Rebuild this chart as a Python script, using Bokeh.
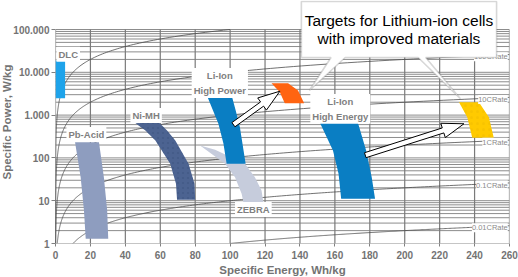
import numpy as np
from bokeh.plotting import figure
from bokeh.models import (Range1d, FixedTicker, CustomJSTickFormatter, Label,
                          PolyAnnotation, Title)
from bokeh.embed import file_html
from bokeh.resources import INLINE

# ---------------- data ----------------
x_ticks = list(range(0, 261, 20))
y_ticks = [1, 10, 100, 1000, 10000, 100000]
c_rates = [0.01, 0.1, 1, 10, 100, 1000]
c_rate_labels = ["0.01CRate", "0.1CRate", "1CRate", "10CRate", "100CRate", ""]

# regions: outline (energy Wh/kg, power W/kg)
dlc_e = [0, 5.5]
dlc_p = [2480, 18900]

pb_e = [11.2, 14.4, 16.3, 17.3, 30.2, 29.6, 27.7, 24.9]
pb_p = [233, 35.4, 5.9, 1.29, 1.29, 5.9, 35.4, 233]

nimh_e = [45.8, 51.5, 57.2, 65.7, 69.0, 69.6, 80.0, 79.6, 76.2, 68.6, 63.9, 59.1]
nimh_p = [647, 437, 255, 72.8, 24.8, 10.5, 10.5, 24.8, 72.8, 255, 437, 682]

zebra_e = [82.8, 97.1, 102.8, 106.6, 107.6, 119.0, 118.0, 114.2, 108.5, 91.4]
zebra_p = [195, 72.8, 35.4, 14.5, 9.2, 9.2, 17.3, 35.4, 72.8, 155]

lihp_e = [86.7, 93.3, 96.2, 98.0, 108.9, 105.6, 103.2, 100.9]
lihp_p = [2870, 631, 214, 72.8, 72.8, 521, 1280, 2870]

lihe_e = [151.3, 158.9, 162.1, 163.6, 183.0, 181.1, 177.9, 173.1]
lihe_p = [682, 149, 42.5, 11.1, 11.1, 35.4, 149, 682]

hp_target_e = [123.7, 128.5, 131.3, 142.4, 138.9, 133.2]
hp_target_p = [5560, 3430, 1900, 1900, 3760, 5560]

he_target_e = [231.1, 235.8, 238.7, 251.0, 248.2, 242.5]
he_target_p = [2000, 893, 295, 295, 893, 2000]

# arrows: (tail E, tail P, tip E, tip P)
arrows = [(101.9, 597, 128.5, 3614), (177.4, 115.6, 233.9, 627)]

# callout
callout_box_e = [140.8, 252.6]
callout_box_p = [22180, 450800]
callout_tails = [(157.8, 165.9, 145.4, 3750), (207.7, 212.0, 231.9, 2415)]
callout_lines = ["Targets for Lithium-ion cells", "with improved materials"]
callout_text_e = 196.7
callout_text_p = [162000, 60700]

region_labels = [
    ("DLC", 7.3, 26300),
    ("Li-Ion\nHigh Power", 94.1, 5620),
    ("Ni-MH", 51.9, 977),
    ("Pb-Acid", 17.7, 352),
    ("Li-Ion\nHigh Energy", 163.1, 1400),
    ("ZEBRA", 113.3, 6.2),
]

x_title = "Specific Energy, Wh/kg"
y_title = "Specific Power, W/kg"

# ---------------- layout ----------------
W, H = 518, 277
BL, BR, BT, BB = 53, 9, 0, 34
frame_w = W - BL - BR
frame_h = H - BT - BB
dec_px = 42.8
y_top = 10 ** (5 + 29 / dec_px)
sx = frame_w / 260.0
sy = frame_h / np.log10(y_top)

FONT = "Liberation Sans"
GRAY = "#737373"

p = figure(width=W, height=H, y_axis_type="log", output_backend="svg",
           toolbar_location=None, x_range=Range1d(0, 260),
           y_range=Range1d(1, y_top))
p.min_border_left = BL
p.min_border_right = BR
p.min_border_top = BT
p.min_border_bottom = BB
p.outline_line_color = None
p.xgrid.visible = False
p.ygrid.visible = False

p.xaxis.ticker = FixedTicker(ticks=x_ticks)
p.yaxis.ticker = FixedTicker(ticks=y_ticks)
p.yaxis.formatter = CustomJSTickFormatter(code="""
var s = Math.round(tick).toString();
return s.replace(/\\B(?=(\\d{3})+(?!\\d))/g, '.');
""")
for ax in (p.xaxis, p.yaxis):
    ax.axis_line_color = None
    ax.major_tick_in = 0
    ax.minor_tick_line_color = None
    ax.major_tick_line_color = "#808080"
    ax.major_label_text_font = FONT
    ax.major_label_text_font_style = "bold"
    ax.major_label_text_font_size = "10px"
    ax.major_label_text_color = GRAY
p.yaxis.major_tick_out = 4
p.yaxis.major_label_standoff = 2
p.xaxis.major_tick_out = 3
p.xaxis.major_label_standoff = 4

# axis titles (offset from frame centre as in the original)
p.add_layout(Title(text=x_title, align="center", offset=-44, standoff=0,
                   text_font=FONT, text_font_size="11.5px",
                   text_font_style="bold", text_color=GRAY), "below")
p.add_layout(Title(text=y_title, align="center", offset=-9, standoff=-4,
                   text_font=FONT, text_font_size="11.5px",
                   text_font_style="bold", text_color=GRAY), "left")

# grid
hy = []
for k in range(5):
    for m in range(1, 10):
        hy.append(m * 10 ** k)
hy.append(1e5)
p.segment(x0=[0] * len(hy), y0=hy, x1=[260] * len(hy), y1=hy,
          line_color="#8c8c8c", line_width=1)
p.segment(x0=x_ticks, y0=[1] * len(x_ticks), x1=x_ticks, y1=[1e5] * len(x_ticks),
          line_color="#7a7a7a", line_width=1.2)

# C-rate lines
for c in c_rates:
    e0 = max(1.0 / c, 1e-3)
    e1 = min(260.0, 1e5 / c)
    es = np.geomspace(e0, e1, 300)
    p.line(es, c * es, line_color="#4d4d4d", line_width=0.8)

# regions
p.quad(left=dlc_e[0], right=dlc_e[1], bottom=dlc_p[0], top=dlc_p[1],
       fill_color="#1ea3ea", line_color=None)
p.patch(pb_e, pb_p, fill_color="#8e9dbf", line_color=None)
p.patch(nimh_e, nimh_p, fill_color="#4c6391", line_color=None,
        hatch_pattern="dot", hatch_color="#3a4f7a", hatch_scale=5, hatch_alpha=0.35)
p.patch(zebra_e, zebra_p, fill_color="#c6ccdc", line_color=None)
p.patch(lihp_e, lihp_p, fill_color="#0a7ec3", line_color=None)
p.patch(lihe_e, lihe_p, fill_color="#0a7ec3", line_color=None)
p.patch(hp_target_e, hp_target_p, fill_color="#ff6411", line_color=None)
p.patch(he_target_e, he_target_p, fill_color="#ffca00", line_color=None,
        hatch_pattern="dot", hatch_color="#e8b400", hatch_scale=6, hatch_alpha=0.3)

# block arrows
def block_arrow(e0, p0, e1, p1, shaft=2.6, head_w=7.5, head_l=22):
    u0, v0 = e0 * sx, np.log10(p0) * sy
    u1, v1 = e1 * sx, np.log10(p1) * sy
    d = np.array([u1 - u0, v1 - v0])
    L = np.hypot(*d)
    d = d / L
    n = np.array([-d[1], d[0]])
    t = np.array([u0, v0])
    tip = np.array([u1, v1])
    base = tip - d * head_l
    pts = [t + n * shaft, base + n * shaft, base + n * head_w, tip,
           base - n * head_w, base - n * shaft, t - n * shaft]
    es = [q[0] / sx for q in pts]
    ps = [10 ** (q[1] / sy) for q in pts]
    return es, ps

for (a, b, c, d) in arrows:
    es, ps = block_arrow(a, b, c, d)
    p.patch(es, ps, fill_color="white", line_color="black", line_width=1)

# C-rate labels
for c, t in zip(c_rates, c_rate_labels):
    if not t:
        continue
    p.add_layout(Label(x=259, y=c * 232, text=t, text_align="right",
                       text_baseline="middle", text_font=FONT,
                       text_font_size="7.5px", text_color="#8a8a8a",
                       background_fill_color="white"))

# callout
ce0, ce1 = callout_box_e
cp0, cp1 = callout_box_p
(t1a, t1b, t1e, t1p), (t2a, t2b, t2e, t2p) = callout_tails
xs = [ce0, ce1, ce1, t2b, t2e, t2a, t1b, t1e, t1a, ce0]
ys = [cp1, cp1, cp0, cp0, t2p, cp0, cp0, t1p, cp0, cp0]
p.add_layout(PolyAnnotation(xs=xs, ys=ys, fill_color="white", fill_alpha=1,
                            line_color="#7a7a7a", line_width=1.6))
for txt, yy in zip(callout_lines, callout_text_p):
    p.add_layout(Label(x=callout_text_e, y=yy, text=txt, text_align="center",
                       text_baseline="middle", text_font=FONT,
                       text_font_size="15.5px", text_color="black"))

# region labels
for txt, xx, yy in region_labels:
    p.add_layout(Label(x=xx, y=yy, text=txt, text_align="center",
                       text_baseline="middle", text_font=FONT,
                       text_font_size="9.5px", text_font_style="bold",
                       text_color="#7f7f7f", text_line_height=1.35,
                       background_fill_color="white", padding=2))

open("out.html", "w").write(file_html(p, INLINE))
